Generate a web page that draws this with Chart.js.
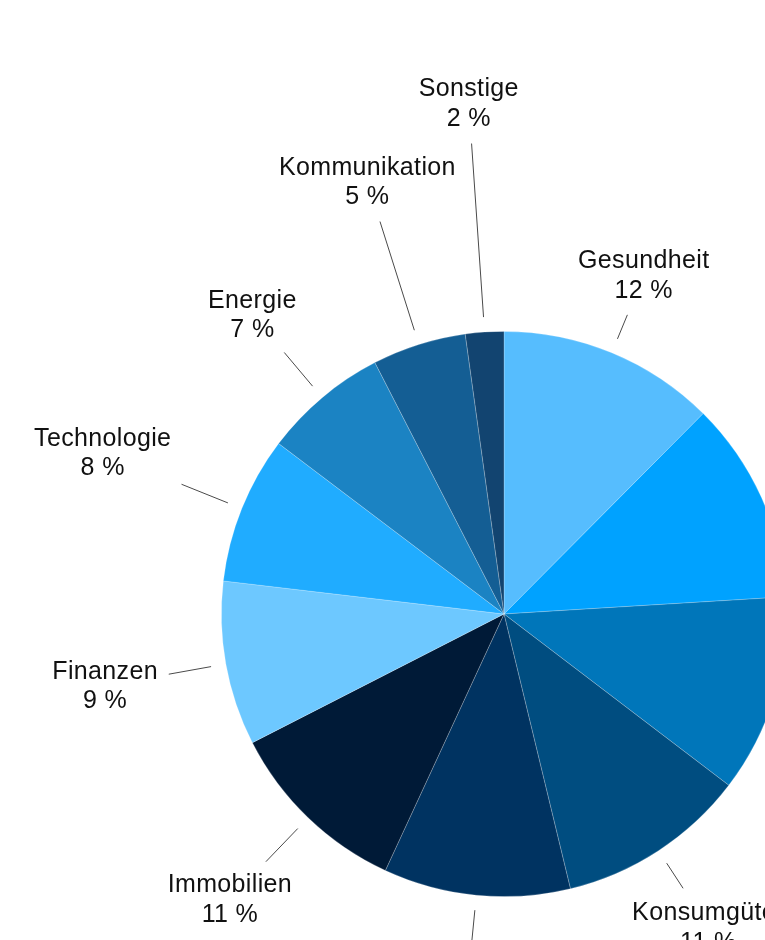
<!DOCTYPE html>
<html>
<head>
<meta charset="utf-8">
<script src="https://cdn.jsdelivr.net/npm/chart.js@4/dist/chart.umd.min.js"></script>
<style>
  html, body { margin: 0; padding: 0; width: 765px; height: 940px; overflow: hidden; background: #ffffff; }
  #wrap { position: absolute; left: 0; top: 0; width: 1008px; height: 1228px; }
</style>
</head>
<body>
<div id="wrap"><canvas id="c" width="1008" height="1228"></canvas></div>
<script>
// ---- data ----
const categories = ["Gesundheit", "Industrie", "Rohstoffe", "Konsumgüter", "Basiskonsumgüter",
                    "Immobilien", "Finanzen", "Technologie", "Energie", "Kommunikation", "Sonstige"];
const shares = [12.45, 11.58, 11.33, 10.86, 10.67, 10.58, 9.39, 8.44, 7.14, 5.36, 2.19];
const sliceColors = ["#56BDFE", "#00A2FF", "#0076BA", "#004D80", "#003361",
                     "#001A37", "#6DC8FF", "#20ACFF", "#1B83C3", "#145E94", "#124470"];
const leaderLengths = [26, 40, 40, 30, 40, 46, 43, 50, 44, 114, 174];

const calloutPlugin = {
  id: 'callouts',
  afterDatasetsDraw(chart, args, opts) {
    const ctx = chart.ctx;
    const meta = chart.getDatasetMeta(0);
    const data = chart.data.datasets[0].data;
    const total = data.reduce((a, b) => a + b, 0);
    ctx.save();
    ctx.font = '25px "Liberation Sans", Arial, sans-serif';
    if ('letterSpacing' in ctx) ctx.letterSpacing = '0.35px';
    ctx.textAlign = 'center';
    ctx.textBaseline = 'middle';
    const lineH = 29.5;
    meta.data.forEach((arc, i) => {
      const p = arc.getProps(['x', 'y', 'startAngle', 'endAngle', 'outerRadius'], true);
      const mid = (p.startAngle + p.endAngle) / 2;
      const dx = Math.cos(mid), dy = Math.sin(mid);
      const r0 = p.outerRadius + 15;
      const r1 = r0 + opts.lengths[i];
      const x0 = p.x + dx * r0, y0 = p.y + dy * r0;
      const x1 = p.x + dx * r1, y1 = p.y + dy * r1;
      ctx.strokeStyle = '#4a4a4a';
      ctx.lineWidth = 1;
      ctx.beginPath();
      ctx.moveTo(x0, y0);
      ctx.lineTo(x1, y1);
      ctx.stroke();
      const l1 = chart.data.labels[i];
      const l2 = Math.round(data[i] / total * 100) + ' %';
      const w = Math.max(ctx.measureText(l1).width, ctx.measureText(l2).width);
      const hw = w / 2, hh = lineH;
      const tx = Math.abs(dx) > 1e-6 ? hw / Math.abs(dx) : Infinity;
      const ty = Math.abs(dy) > 1e-6 ? hh / Math.abs(dy) : Infinity;
      const t = Math.min(tx, ty) + 11;
      const cx = x1 + dx * t, cy = y1 + dy * t;
      ctx.fillStyle = '#111111';
      ctx.fillText(l1, cx, cy - lineH / 2 + 1);
      ctx.fillText(l2, cx, cy + lineH / 2 + 1);
    });
    ctx.restore();
  }
};

new Chart(document.getElementById('c'), {
  type: 'pie',
  data: {
    labels: categories,
    datasets: [{
      data: shares,
      backgroundColor: sliceColors,
      borderColor: 'rgba(255,255,255,0.28)',
      borderWidth: 0.8
    }]
  },
  options: {
    responsive: false,
    animation: false,
    layout: { padding: { left: 221, right: 221, top: 331, bottom: 331 } },
    plugins: {
      legend: { display: false },
      tooltip: { enabled: false },
      callouts: { lengths: leaderLengths }
    }
  },
  plugins: [calloutPlugin]
});
</script>
</body>
</html>
